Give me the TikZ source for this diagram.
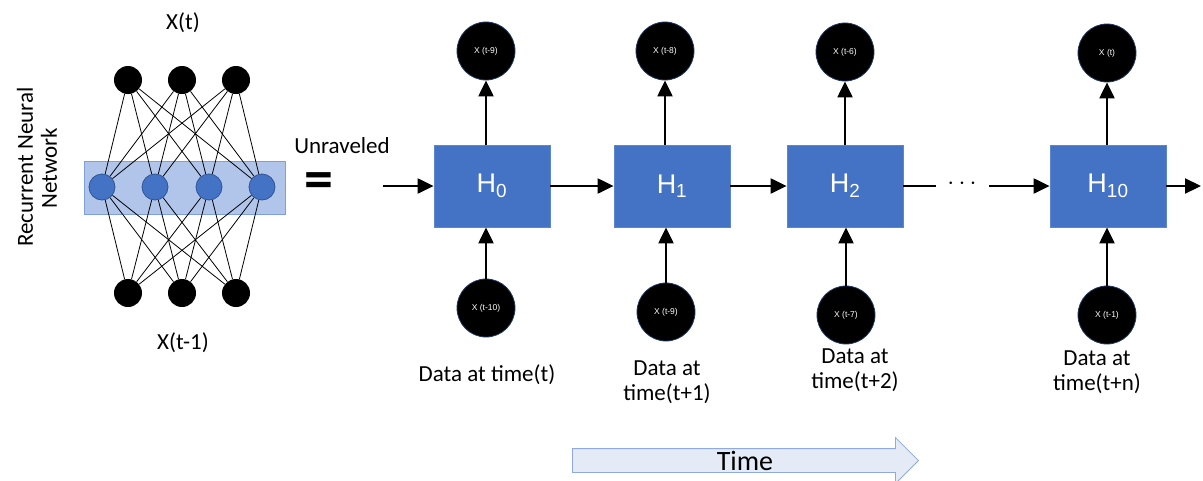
\documentclass[tikz,border=0pt]{standalone}
\usepackage{fontspec}
\setmainfont{Carlito}
\newfontfamily\arialf{Liberation Sans}
\usetikzlibrary{arrows.meta,shapes.arrows}
\definecolor{hblue}{HTML}{4472C4}
\definecolor{hborder}{HTML}{5B86D0}
\definecolor{bandfill}{HTML}{A3BCE6}
\definecolor{bandborder}{HTML}{7F9FD8}
\definecolor{nodeborder}{HTML}{2F5597}
\definecolor{timefill}{HTML}{E4EAF6}
\definecolor{timeborder}{HTML}{8FAADC}
\definecolor{circborder}{HTML}{1F3864}
\begin{document}
\begin{tikzpicture}[x=1pt,y=-1pt,
  arr/.style={-{Triangle[length=16pt,width=15pt]}, line width=2.2pt},
  conn/.style={line width=0.8pt, black},
  bnode/.style={circle, fill=black, minimum size=28pt, inner sep=0pt},
  hnode/.style={circle, fill=hblue, draw=nodeborder, line width=0.8pt, minimum size=26pt, inner sep=0pt},
  hbox/.style={rectangle, fill=hblue, draw=hborder, line width=0.8pt, minimum width=116pt, minimum height=82pt, inner sep=0pt, text=white, font=\arialf\fontsize{27}{30}\selectfont},
  xcirc/.style={circle, fill=black, draw=circborder, line width=0.8pt, minimum size=58pt, inner sep=0pt, text=white, font=\arialf\fontsize{8.5}{9}\selectfont},
  txt/.style={font=\fontsize{23}{25}\selectfont, align=center, inner sep=0pt},
]
\useasboundingbox (0,0) rectangle (1203,480);
\fill[white] (0,0) rectangle (1203,480);

% ---- left network ----
\node[draw=bandborder, fill=bandfill, fill opacity=0.85, minimum width=201pt, minimum height=53pt, inner sep=0pt] (band) at (184.5,187.5) {};
\foreach \i/\x in {1/128,2/182,3/236} {
  \node[bnode] (t\i) at (\x,80) {};
  \node[bnode] (b\i) at (\x,293) {};
}
\foreach \j/\x in {1/102,2/155,3/209,4/262} {
  \node[hnode] (m\j) at (\x,187) {};
}
\foreach \i in {1,2,3} {
  \foreach \j in {1,2,3,4} {
    \draw[conn] (t\i) -- (m\j);
    \draw[conn] (b\i) -- (m\j);
  }
}
\node[txt] (xt) at (183,23) {X(t)};
\node[txt] (xt1) at (183,343) {X(t-1)};
\node[txt, rotate=90] (rnn1) at (25,167) {Recurrent Neural};
\node[txt, rotate=90] (rnn2) at (49,168) {Network};
\node[txt] (unr) at (342,146) {Unraveled};
\node[font=\fontsize{58}{60}\selectfont\bfseries, inner sep=0pt] (eq) at (319,186) {=};

% ---- unrolled chain ----
\node[hbox] (h0) at (492,186) {H\textsubscript{0}};
\node[hbox] (h1) at (672,186) {H\textsubscript{1}};
\node[hbox] (h2) at (845,186) {H\textsubscript{2}};
\node[hbox] (h10) at (1108,186) {H\textsubscript{10}};

\coordinate (in) at (383,186);
\coordinate (out) at (1201,186);
\coordinate (dl) at (936,186);
\coordinate (dr) at (989,186);
\node[font=\fontsize{24}{26}\selectfont] (dots) at (962,184) {$\cdots$};

\draw[arr] (in) -- (h0);
\draw[arr] (h0) -- (h1);
\draw[arr] (h1) -- (h2);
\draw[line width=2.2pt] (h2) -- (dl);
\draw[arr] (dr) -- (h10);
\draw[arr] (h10) -- (out);

\node[xcirc] (o0) at (486,51) {X (t-9)};
\node[xcirc] (o1) at (665,51) {X (t-8)};
\node[xcirc] (o2) at (845,52) {X (t-6)};
\node[xcirc] (o10) at (1107,53) {X (t)};

\node[xcirc] (i0) at (486,308) {X (t-10)};
\node[xcirc] (i1) at (666,312) {X (t-9)};
\node[xcirc] (i2) at (846,315) {X (t-7)};
\node[xcirc] (i10) at (1107,315) {X (t-1)};

\draw[arr] (h0.north -| o0) -- (o0);
\draw[arr] (h1.north -| o1) -- (o1);
\draw[arr] (h2.north -| o2) -- (o2);
\draw[arr] (h10.north -| o10) -- (o10);
\draw[arr] (i0) -- (h0.south -| i0);
\draw[arr] (i1) -- (h1.south -| i1);
\draw[arr] (i2) -- (h2.south -| i2);
\draw[arr] (i10) -- (h10.south -| i10);

\node[txt] (d0) at (487,375) {Data at time(t)};
\node[txt] (d1) at (667,382) {Data at\\time(t+1)};
\node[txt] (d2) at (855,370) {Data at\\time(t+2)};
\node[txt] (d10) at (1097,372) {Data at\\time(t+n)};

% ---- time arrow ----
\node[single arrow, draw=timeborder, fill=timefill, line width=0.8pt,
      single arrow head extend=11pt, single arrow tip angle=90,
      minimum height=346pt, inner xsep=0pt, inner ysep=11.5pt, anchor=west] (timearr) at (572,460.5) {};
\node[font=\fontsize{28}{30}\selectfont] (time) at (745,461) {Time};
\end{tikzpicture}
\end{document}
